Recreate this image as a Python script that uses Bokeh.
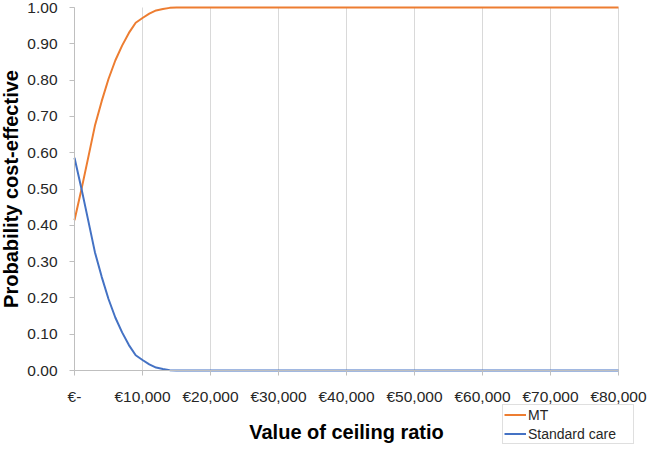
from bokeh.plotting import figure
from bokeh.models import (ColumnDataSource, Legend, LegendItem, NumeralTickFormatter,
                          FixedTicker, Range1d)
from bokeh.embed import file_html
from bokeh.resources import INLINE

# Data
wtp = [0, 1000, 2000, 3000, 4000, 5000, 6000, 7000, 8000, 9000, 10000,
       11000, 12000, 13000, 14000, 15000, 20000, 30000, 40000, 50000,
       60000, 70000, 80000]
mt = [0.414, 0.497, 0.585, 0.674, 0.742, 0.803, 0.854, 0.895, 0.930, 0.958,
      0.971, 0.983, 0.992, 0.996, 0.999, 1.0, 1.0, 1.0, 1.0, 1.0, 1.0, 1.0, 1.0]
standard_care = [0.586, 0.503, 0.415, 0.326, 0.258, 0.197, 0.146, 0.105, 0.070,
                 0.042, 0.029, 0.017, 0.008, 0.004, 0.001, 0.0, 0.0, 0.0, 0.0,
                 0.0, 0.0, 0.0, 0.0]
x_ticks = [0, 10000, 20000, 30000, 40000, 50000, 60000, 70000, 80000]
x_tick_labels = ["€-", "€10,000", "€20,000", "€30,000", "€40,000",
                 "€50,000", "€60,000", "€70,000", "€80,000"]
y_ticks = [0.0, 0.1, 0.2, 0.3, 0.4, 0.5, 0.6, 0.7, 0.8, 0.9, 1.0]
series_names = ["MT", "Standard care"]

FONT = "Liberation Sans"

W, H = 650, 445
# screen positions (px) of the data box inside the figure
PX_LEFT, PX_RIGHT, PX_TOP, PX_BOTTOM = 74, 618, 7, 370
X0, X1 = x_ticks[0], x_ticks[-1]
Y0, Y1 = y_ticks[0], y_ticks[-1]
xs = (X1 - X0) / (PX_RIGHT - PX_LEFT)
ys = (Y1 - Y0) / (PX_BOTTOM - PX_TOP)
# the frame fills the whole figure so that axes, titles and legend are drawn inside it
x_range = Range1d(X0 - PX_LEFT * xs, X1 + (W - PX_RIGHT) * xs)
y_range = Range1d(Y0 - (H - PX_BOTTOM) * ys, Y1 + PX_TOP * ys)

src = ColumnDataSource(data=dict(wtp=wtp, mt=mt, sc=standard_care))

p = figure(width=W, height=H, output_backend="svg", toolbar_location=None,
           x_range=x_range, y_range=y_range, min_border=0)
p.outline_line_color = None
p.background_fill_color = "white"
p.border_fill_color = "white"

# vertical grid lines limited to the 0..1 band
grid = p.xgrid[0]
grid.ticker = FixedTicker(ticks=x_ticks)
grid.grid_line_color = "#d9d9d9"
grid.grid_line_width = 1
if "cross_bounds" in grid.properties():
    grid.cross_bounds = (Y0, Y1)
    grid.bounds = (X0, X1)
else:
    grid.grid_line_color = None
    p.segment(x0=x_ticks, y0=[Y0] * len(x_ticks), x1=x_ticks, y1=[Y1] * len(x_ticks),
              line_color="#d9d9d9", line_width=1)
p.ygrid.grid_line_color = None

r_mt = p.line("wtp", "mt", source=src, line_color="#ED7D31", line_width=2)
r_sc = p.line("wtp", "sc", source=src, line_color="#4472C4", line_width=2)

# x axis, pinned at y = 0
xa = p.xaxis[0]
xa.fixed_location = Y0
xa.bounds = (X0, X1)
xa.ticker = FixedTicker(ticks=x_ticks)
xa.major_label_overrides = {t: l for t, l in zip(x_ticks, x_tick_labels)}
xa.axis_label = "Value of ceiling ratio"
xa.axis_label_text_font = FONT
xa.axis_label_text_font_style = "bold"
xa.axis_label_text_font_size = "20px"
xa.axis_label_text_color = "#000000"
xa.axis_label_standoff = 13
xa.major_label_text_font = FONT
xa.major_label_text_font_size = "15.5px"
xa.major_label_text_color = "#262626"
xa.major_label_standoff = 12
xa.major_tick_out = 5
xa.major_tick_in = 0
xa.minor_tick_out = 0
xa.minor_tick_in = 0
xa.axis_line_color = "#bfbfbf"
xa.major_tick_line_color = "#bfbfbf"

# y axis, pinned at x = 0
ya = p.yaxis[0]
ya.fixed_location = X0
ya.bounds = (Y0, Y1)
ya.ticker = FixedTicker(ticks=y_ticks)
ya.formatter = NumeralTickFormatter(format="0.00")
ya.axis_label = "Probability cost-effective"
ya.axis_label_text_font = FONT
ya.axis_label_text_font_style = "bold"
ya.axis_label_text_font_size = "20px"
ya.axis_label_text_color = "#000000"
ya.axis_label_standoff = 2
ya.major_label_text_font = FONT
ya.major_label_text_font_size = "15.5px"
ya.major_label_text_color = "#262626"
ya.major_label_standoff = 12
ya.major_tick_out = 5
ya.major_tick_in = 0
ya.minor_tick_out = 0
ya.minor_tick_in = 0
ya.axis_line_color = "#bfbfbf"
ya.major_tick_line_color = "#bfbfbf"

legend = Legend(items=[LegendItem(label=series_names[0], renderers=[r_mt]),
                       LegendItem(label=series_names[1], renderers=[r_sc])],
                location=(502, 1))
legend.label_text_font = FONT
legend.label_text_font_size = "14px"
legend.label_text_color = "#262626"
legend.glyph_width = 22
legend.glyph_height = 17
legend.label_height = 17
legend.label_width = 104
legend.label_standoff = 2
legend.spacing = 2
legend.padding = 1
legend.margin = 0
legend.border_line_color = "#bfbfbf"
legend.border_line_width = 1
legend.background_fill_color = "white"
legend.background_fill_alpha = 1.0
p.add_layout(legend, "center")

open("out.html", "w").write(file_html(p, INLINE))
